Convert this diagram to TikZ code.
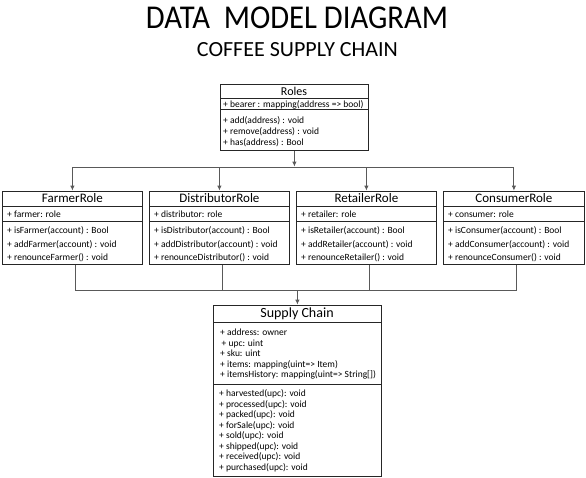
\documentclass[tikz,border=0pt]{standalone}
\usepackage{fontspec}
\setmainfont{Carlito}
\usetikzlibrary{arrows.meta}
\tikzset{
  box/.style={draw=black!85, line width=0.8pt, fill=white, inner sep=0pt, anchor=north west},
  divider/.style={draw=black!85, line width=0.8pt},
  ttl/.style={font=\fontsize{13}{13}\selectfont, inner sep=0pt, anchor=center},
  txt/.style={font=\fontsize{9.5}{10}\selectfont, inner sep=0pt, anchor=base west},
  conn/.style={draw=black!65, line width=0.9pt},
  arr/.style={conn, -{Latex[length=5pt,width=4.5pt]}, shorten >=0.4pt},
}
\begin{document}
\begin{tikzpicture}[x=1pt,y=-1pt]
\useasboundingbox (0,0) rectangle (586,477);
\fill[white] (0,0) rectangle (586,477);

% titles
\node[inner sep=0pt] (title) at (297,17.5) {\resizebox{302pt}{21.6pt}{DATA\ \ MODEL DIAGRAM}};
\node[inner sep=0pt] (subtitle) at (297.5,49.7) {\resizebox{201pt}{14pt}{COFFEE SUPPLY CHAIN}};

% Roles
\node[box, minimum width=148pt, minimum height=66pt] (roles) at (220,84) {};
\draw[divider] (roles.west |- 0,98) -- (roles.east |- 0,98);
\draw[divider] (roles.west |- 0,109) -- (roles.east |- 0,109);
\node[ttl, font=\fontsize{12}{12}\selectfont] (rolesT) at (294,91.5) {Roles};
\node[txt] (r1) at (223,107) {+ bearer : mapping(address => bool)};
\node[txt] (r2) at (223,123) {+ add(address) : void};
\node[txt] (r3) at (223,134) {+ remove(address) : void};
\node[txt] (r4) at (223,145) {+ has(address) : Bool};

% role boxes
\foreach \nm/\x/\w/\ttext/\a/\m/\n/\o in {
  farmer/2/140/FarmerRole/farmer/isFarmer/addFarmer/renounceFarmer,
  distributor/149/140/DistributorRole/distributor/isDistributor/addDistributor/renounceDistributor,
  retailer/296/140/RetailerRole/retailer/isRetailer/addRetailer/renounceRetailer,
  consumer/443/141/ConsumerRole/consumer/isConsumer/addConsumer/renounceConsumer}{
  \node[box, minimum width=\w pt, minimum height=73pt] (\nm) at (\x,191) {};
  \draw[divider] (\nm.west |- 0,206) -- (\nm.east |- 0,206);
  \draw[divider] (\nm.west |- 0,221) -- (\nm.east |- 0,221);
  \node[ttl] (\nm T) at (\nm.north |- 0,198.5) {\ttext};
  \node[txt] (\nm A) at ([xshift=5pt]\nm.west |- 0,217) {+ \a: role};
  \node[txt] (\nm M1) at ([xshift=5pt]\nm.west |- 0,233) {+ \m(account) : Bool};
  \node[txt] (\nm M2) at ([xshift=5pt]\nm.west |- 0,247) {+ \n(account) : void};
  \node[txt] (\nm M3) at ([xshift=5pt]\nm.west |- 0,260) {+ \o() : void};
}

% Supply Chain
\node[box, minimum width=168pt, minimum height=171pt] (sc) at (213,305) {};
\draw[divider] (sc.west |- 0,322) -- (sc.east |- 0,322);
\draw[divider] (sc.west |- 0,384) -- (sc.east |- 0,384);
\node[ttl, font=\fontsize{14}{14}\selectfont] (scT) at (297,313.5) {Supply Chain};
\node[txt] (s1) at (220,335) {+ address: owner};
\node[txt] (s2) at (221.5,346) {+ upc: uint};
\node[txt] (s3) at (220,356.5) {+ sku: uint};
\node[txt] (s4) at (220,367) {+ items: mapping(uint=> Item)};
\node[txt] (s5) at (220,377.5) {+ itemsHistory: mapping(uint=> String[])};
\node[txt] (m1) at (219,396.5) {+ harvested(upc): void};
\node[txt] (m2) at (219,407) {+ processed(upc): void};
\node[txt] (m3) at (219,417.5) {+ packed(upc): void};
\node[txt] (m4) at (219,428) {+ forSale(upc): void};
\node[txt] (m5) at (219,438.5) {+ sold(upc): void};
\node[txt] (m6) at (219,449) {+ shipped(upc): void};
\node[txt] (m7) at (219,459.5) {+ received(upc): void};
\node[txt] (m8) at (219,470) {+ purchased(upc): void};

% connectors: Roles -> role boxes
\coordinate (bus1) at (roles.south |- 0,167);
\draw[arr] (roles.south) -- (bus1);
\draw[conn] (farmer.north |- bus1) -- (consumer.north |- bus1);
\foreach \nm in {farmer,distributor,retailer,consumer}{
  \draw[arr] (\nm.north |- bus1) -- (\nm.north);
}

% connectors: role boxes -> Supply Chain
\foreach \nm in {farmer,distributor,retailer,consumer}{
  \coordinate (\nm S) at ([xshift=3pt]\nm.south);
  \draw[conn] (\nm S) -- (\nm S |- 0,290);
}
\draw[conn] (farmerS |- 0,290) -- (consumerS |- 0,290);
\coordinate (bus2) at (sc.north |- 0,290);
\draw[arr] (bus2) -- (sc.north);
\end{tikzpicture}
\end{document}
